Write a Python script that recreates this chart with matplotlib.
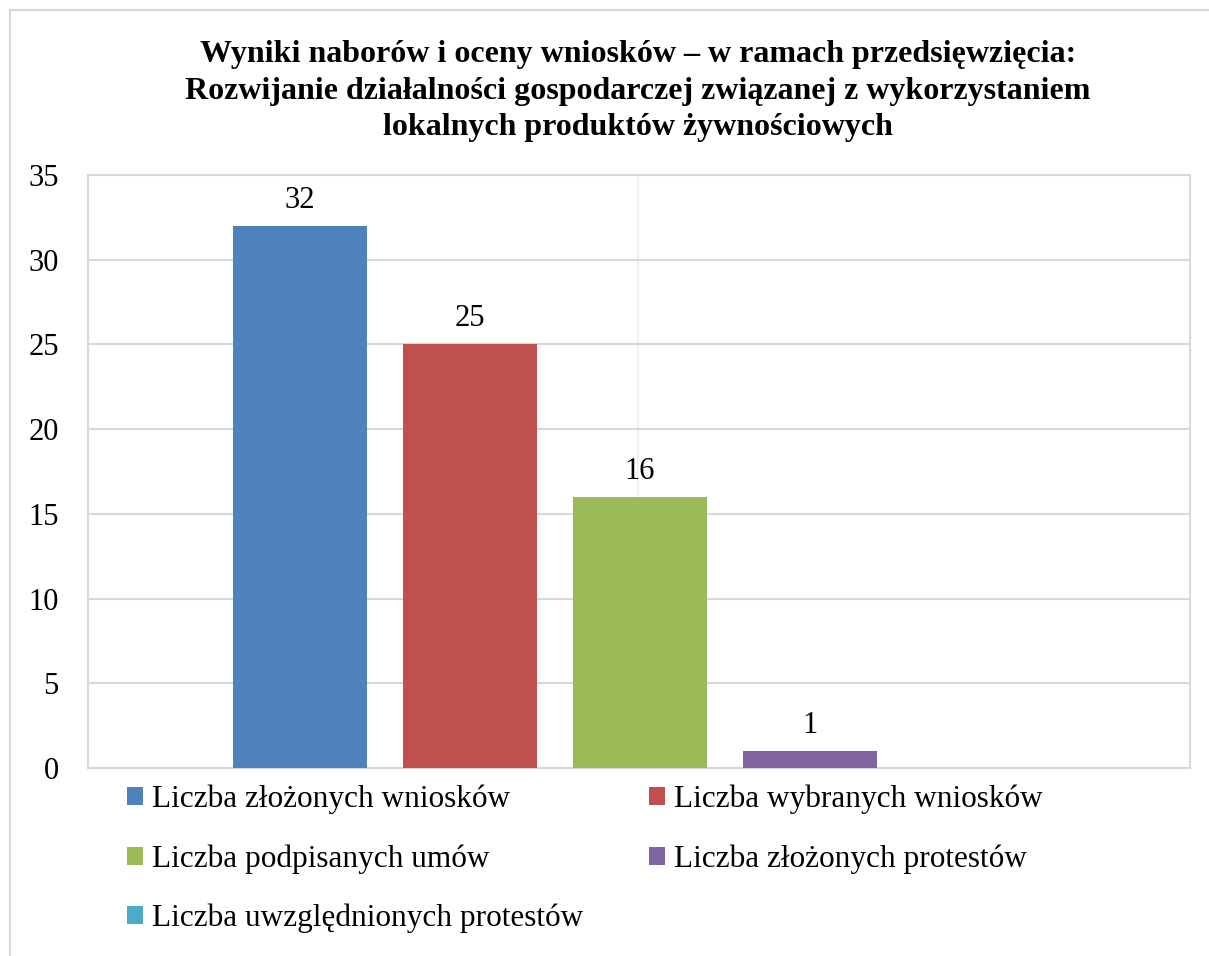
import matplotlib.pyplot as plt
import matplotlib.patches as mpatches
import numpy as np

plt.rcParams['font.family'] = ['Liberation Serif', 'DejaVu Serif']

# dane
serie = ['Liczba złożonych wniosków', 'Liczba wybranych wniosków',
         'Liczba podpisanych umów', 'Liczba złożonych protestów',
         'Liczba uwzględnionych protestów']
wartosci = [32, 25, 16, 1, 0]
kolory = ['#4F81BD', '#C0504D', '#9BBB59', '#8064A2', '#4BACC6']
tytul = ('Wyniki naborów i oceny wniosków – w ramach przedsięwzięcia:\n'
         'Rozwijanie działalności gospodarczej związanej z wykorzystaniem\n'
         'lokalnych produktów żywnościowych')

W, H = 1209, 956
fig = plt.figure(figsize=(W / 100, H / 100), dpi=100)

# ramka wykresu
fig.patches.append(mpatches.Rectangle((10 / W, -0.1), 1.2, 1.1 - 10 / H,
                                      transform=fig.transFigure, fill=False,
                                      edgecolor='#d9d9d9', linewidth=1.5))

ax = fig.add_axes([88 / W, 1 - 768 / H, (1190 - 88) / W, (768 - 175) / H])

n = len(wartosci)
pozycje = np.arange(n) - (n - 1) / 2
uchwyty = []
for i in range(n):
    b = ax.bar(pozycje[i], wartosci[i], width=0.788, color=kolory[i], label=serie[i], zorder=3)
    uchwyty.append(b)
    if wartosci[i] > 0:
        ax.bar_label(b, labels=[str(wartosci[i])], padding=8, fontsize=22)

ax.set_xlim(-3.247, 3.235)
ax.set_ylim(0, 35)
ax.set_yticks(np.arange(0, 36, 5))
ax.set_xticks([])
ax.axvline(-0.012, color='#f0f0f0', linewidth=1.5, zorder=1)
ax.yaxis.grid(True, color='#d9d9d9', linewidth=1.5, zorder=0)
ax.tick_params(axis='y', length=0, labelsize=22, pad=21)
for s in ax.spines.values():
    s.set_color('#d9d9d9')
    s.set_linewidth(1.5)

fig.text(638 / W, 1 - 91 / H, tytul, ha='center', va='center', fontsize=23,
         fontweight='bold', linespacing=1.36)

kolejnosc = [0, 2, 4, 1, 3]
fig.legend([uchwyty[k] for k in kolejnosc], [serie[k] for k in kolejnosc],
           ncol=2, loc='upper left', bbox_to_anchor=(127 / W, 1 - 785 / H),
           frameon=False, fontsize=22.5, handlelength=0.51, handleheight=0.51,
           handletextpad=0.29, columnspacing=2.1, labelspacing=0.95,
           borderaxespad=0, borderpad=0)

fig.savefig('out.png', dpi=100)
